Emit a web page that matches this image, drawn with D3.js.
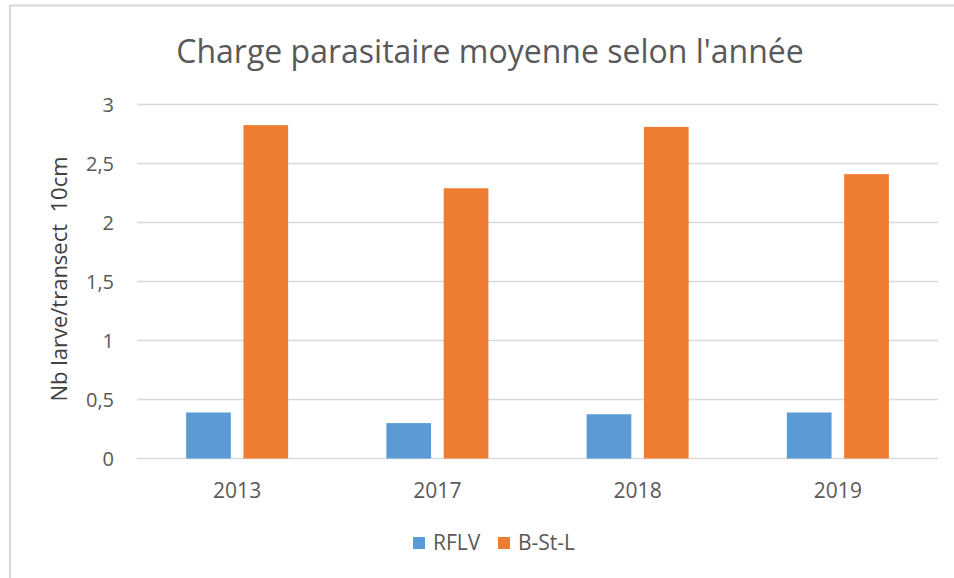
<!DOCTYPE html>
<html>
<head>
<meta charset="UTF-8" />
<title>Charge parasitaire</title>
<style>
  body { margin: 0; background: #fff; }
  text { font-family: "Open Sans", sans-serif; fill: #595959; }
  .grid line { stroke: #d9d9d9; stroke-width: 1.5px; }
</style>
<script src="https://d3js.org/d3.v7.min.js"></script>
</head>
<body>
<div id="chart"></div>
<script>
// data
var years = ["2013", "2017", "2018", "2019"];
var series = ["RFLV", "B-St-L"];
var rflv = [0.39, 0.30, 0.375, 0.39];
var bstl = [2.825, 2.29, 2.81, 2.41];
var yTicks = [0, 0.5, 1, 1.5, 2, 2.5, 3];
var colors = ["#5b9bd5", "#ed7d31"];

var width = 954, height = 578;
var margin = {top: 104, right: 16, bottom: 120, left: 137};

var svg = d3.select("#chart").append("svg")
    .attr("width", width)
    .attr("height", height);

// chart frame (only top and left edges visible)
svg.append("line").attr("x1", 9).attr("x2", width).attr("y1", 5.5).attr("y2", 5.5)
    .attr("stroke", "#d9d9d9").attr("stroke-width", 2);
svg.append("line").attr("x1", 10).attr("x2", 10).attr("y1", 5).attr("y2", height)
    .attr("stroke", "#d9d9d9").attr("stroke-width", 2);

var x = d3.scaleBand()
    .domain(years)
    .range([margin.left, width - margin.right]);

var x1 = d3.scaleBand()
    .domain(series)
    .range([0, 102])
    .paddingInner(0.22);

var y = d3.scaleLinear()
    .domain([0, 3])
    .range([458.5, 104.5]);

var fmt = function(d) { return String(d).replace(".", ","); };

// grid lines
var grid = svg.append("g").attr("class", "grid");
grid.selectAll("line")
  .data(yTicks)
  .enter().append("line")
    .attr("x1", x.range()[0])
    .attr("x2", x.range()[1])
    .attr("y1", function(d) { return y(d); })
    .attr("y2", function(d) { return y(d); });

// y tick labels
svg.append("g").selectAll("text")
  .data(yTicks)
  .enter().append("text")
    .attr("x", 114)
    .attr("y", function(d) { return y(d); })
    .attr("dy", "0.35em")
    .attr("text-anchor", "end")
    .style("font-size", "20px")
    .text(fmt);

// bars
var rows = years.map(function(yr, i) {
  return {year: yr, values: [
    {key: series[0], v: rflv[i], c: colors[0]},
    {key: series[1], v: bstl[i], c: colors[1]}
  ]};
});

var groups = svg.selectAll(".yr")
  .data(rows)
  .enter().append("g")
    .attr("class", "yr")
    .attr("transform", function(d) {
      return "translate(" + (x(d.year) + x.bandwidth() / 2 - 51) + ",0)";
    });

groups.selectAll("rect")
  .data(function(d) { return d.values; })
  .enter().append("rect")
    .attr("x", function(d) { return x1(d.key); })
    .attr("width", x1.bandwidth())
    .attr("y", function(d) { return y(d.v); })
    .attr("height", function(d) { return y(0) - y(d.v); })
    .attr("fill", function(d) { return d.c; });

// x labels
svg.append("g").selectAll("text")
  .data(years)
  .enter().append("text")
    .attr("x", function(d) { return x(d) + x.bandwidth() / 2; })
    .attr("y", 498)
    .attr("text-anchor", "middle")
    .style("font-size", "21px")
    .text(function(d) { return d; });

// title
svg.append("text")
    .attr("x", 490)
    .attr("y", 63)
    .attr("text-anchor", "middle")
    .style("font-size", "32px")
    .text("Charge parasitaire moyenne selon l'année");

// y axis title
svg.append("text")
    .attr("transform", "translate(67,279) rotate(-90)")
    .attr("text-anchor", "middle")
    .style("font-size", "22px")
    .style("fill", "#404040")
    .style("white-space", "pre")
    .text("Nb larve/transect  10cm");

// legend
var legendX = [413, 498];
var legend = svg.selectAll(".leg")
  .data(series)
  .enter().append("g")
    .attr("class", "leg")
    .attr("transform", function(d, i) { return "translate(" + legendX[i] + ",537)"; });
legend.append("rect")
    .attr("width", 12).attr("height", 12)
    .attr("fill", function(d, i) { return colors[i]; });
legend.append("text")
    .attr("x", 20)
    .attr("y", 6)
    .attr("dy", "0.35em")
    .style("font-size", "21px")
    .text(function(d) { return d; });
</script>
</body>
</html>
